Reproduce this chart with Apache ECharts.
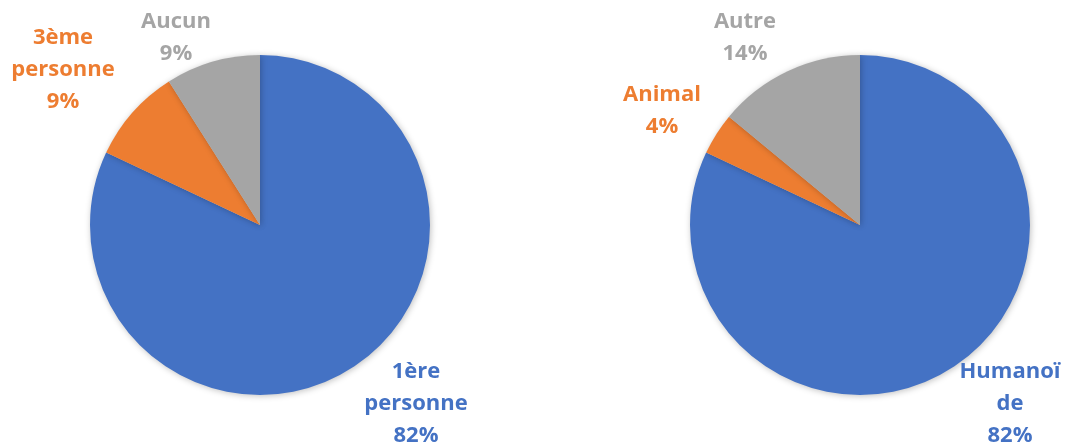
<!DOCTYPE html>
<html>
<head>
<meta charset="utf-8">
<script src="https://cdn.jsdelivr.net/npm/echarts@6/dist/echarts.min.js"></script>
<style>
  html, body { margin: 0; padding: 0; background: #fff; }
  #chart { width: 1070px; height: 445px; }
</style>
</head>
<body>
<div id="chart"></div>
<script>
// Perspective split
const perspectiveNames = ['1ère\npersonne', '3ème\npersonne', 'Aucun'];
const perspectiveValues = [82, 9, 9];
// Avatar type split
const avatarNames = ['Humanoï\nde', 'Animal', 'Autre'];
const avatarValues = [82, 4, 14];

const sliceColors = ['#4472C4', '#ED7D31', '#A5A5A5'];

// Label anchor points (centre of each text block) per pie
const perspectiveLabelPos = [[416, 404], [63, 70], [176, 38]];
const avatarLabelPos = [[1010, 404], [662, 111], [745, 38]];

function buildData(names, values) {
  return names.map((n, i) => ({
    name: n,
    value: values[i],
    itemStyle: { color: sliceColors[i] },
    label: { color: sliceColors[i] }
  }));
}

function pieSeries(names, values, center, labelPos) {
  return {
    type: 'pie',
    center: center,
    radius: 170,
    startAngle: 90,
    clockwise: true,
    silent: true,
    animation: false,
    avoidLabelOverlap: false,
    itemStyle: {
      borderWidth: 0,
      shadowBlur: 6,
      shadowColor: 'rgba(0,0,0,0.25)',
      shadowOffsetX: 1,
      shadowOffsetY: 1
    },
    label: {
      show: true,
      position: 'outside',
      formatter: p => p.name + '\n' + p.value + '%',
      fontFamily: 'Open Sans',
      fontWeight: 'bold',
      fontSize: 22,
      lineHeight: 32,
      align: 'center',
      verticalAlign: 'middle',
      overflow: 'none',
      width: 200
    },
    labelLine: { show: false },
    labelLayout: p => ({
      x: labelPos[p.dataIndex][0],
      y: labelPos[p.dataIndex][1],
      align: 'center',
      verticalAlign: 'middle'
    }),
    data: buildData(names, values)
  };
}

const chart = echarts.init(document.getElementById('chart'), null, { renderer: 'canvas' });
chart.setOption({
  backgroundColor: '#ffffff',
  series: [
    pieSeries(perspectiveNames, perspectiveValues, [260, 225], perspectiveLabelPos),
    pieSeries(avatarNames, avatarValues, [860, 225], avatarLabelPos)
  ]
});
</script>
</body>
</html>
